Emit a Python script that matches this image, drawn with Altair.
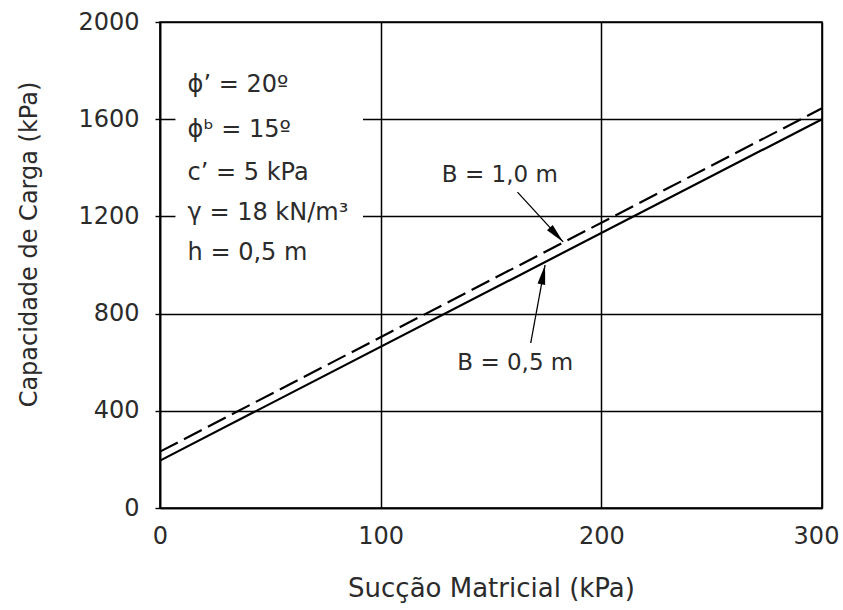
import altair as alt
import pandas as pd

# ---- data ----
suction = [0, 300]
cap_b05 = [195, 1600]      # B = 0,5 m (solid)
cap_b10 = [232, 1645]      # B = 1,0 m (dashed)

x_ticks = [0, 100, 200, 300]
y_ticks = [0, 400, 800, 1200, 1600, 2000]

param_text = ["ϕ’ = 20º", "ϕᵇ = 15º", "c’ = 5 kPa", "γ = 18 kN/m³", "h = 0,5 m"]
param_x = [12.5, 12.5, 12.5, 12.5, 12.5]
param_y = [1740, 1556, 1379, 1216, 1049]

label_text = ["B = 1,0 m", "B = 0,5 m"]
label_x = [154, 161]
label_y = [1370, 597]

arrow_x = [162, 168]
arrow_y = [1300, 679]
arrow_x2 = [182.7, 174.5]
arrow_y2 = [1095, 1000]
arrow_angle = [137, 11]

# text-block white backing (covers the gridlines behind the parameters)
box_x, box_x2, box_y, box_y2 = [7], [92], [1000], [1860]

FONT = "DejaVu Sans"
TXT = "#2b2b2b"

lines_df = pd.DataFrame({
    "s": suction * 2,
    "q": cap_b05 + cap_b10,
    "B": ["0,5"] * 2 + ["1,0"] * 2,
})
params_df = pd.DataFrame({"t": param_text, "x": param_x, "y": param_y})
labels_df = pd.DataFrame({"t": label_text, "x": label_x, "y": label_y})
arrows_df = pd.DataFrame({"x": arrow_x, "y": arrow_y, "x2": arrow_x2,
                          "y2": arrow_y2, "a": arrow_angle})
box_df = pd.DataFrame({"x": box_x, "x2": box_x2, "y": box_y, "y2": box_y2})

xscale = alt.Scale(domain=[0, 300], nice=False)
yscale = alt.Scale(domain=[0, 2000], nice=False)

xaxis = alt.Axis(values=x_ticks, format="d", grid=True, gridColor="black", gridWidth=1.5,
                 gridOpacity=1, domainColor="black", domainWidth=1.6, ticks=False,
                 labelFont=FONT, labelFontSize=24, labelColor=TXT, labelPadding=16,
                 labelFlush=False, labelOverlap=False,
                 labelOffset={"condition": {"test": "datum.value == 300", "value": -6},
                              "value": 0},
                 title="Sucção Matricial (kPa)", titleFont=FONT, titleFontSize=26,
                 titleFontWeight="normal", titleColor=TXT, titleX=331, titleY=88,
                 titleAlign="center", titleBaseline="alphabetic")
yaxis = alt.Axis(values=y_ticks, format="d", grid=True, gridColor="black", gridWidth=1.5,
                 gridOpacity=1, domainColor="black", domainWidth=1.6, ticks=True,
                 tickColor="black", tickSize=5, tickWidth=1.4,
                 labelFont=FONT, labelFontSize=24, labelColor=TXT, labelPadding=16,
                 labelFlush=False, labelOverlap=False,
                 title="Capacidade de Carga (kPa)", titleFont=FONT, titleFontSize=24,
                 titleFontWeight="normal", titleColor=TXT, titleAngle=270,
                 titleX=-131, titleY=222, titleAlign="center", titleBaseline="middle")

box = alt.Chart(box_df).mark_rect(color="white").encode(
    x=alt.X("x:Q", scale=xscale, axis=xaxis),
    x2="x2:Q",
    y=alt.Y("y:Q", scale=yscale, axis=yaxis),
    y2="y2:Q",
)

solid = alt.Chart(lines_df[lines_df["B"] == "0,5"]).mark_line(
    color="black", strokeWidth=2.2).encode(
    x=alt.X("s:Q", scale=xscale), y=alt.Y("q:Q", scale=yscale))

dashed = alt.Chart(lines_df[lines_df["B"] == "1,0"]).mark_line(
    color="black", strokeWidth=2.2, strokeDash=[20, 7]).encode(
    x=alt.X("s:Q", scale=xscale), y=alt.Y("q:Q", scale=yscale))

arrow_lines = alt.Chart(arrows_df).mark_rule(color="black", strokeWidth=1.3).encode(
    x=alt.X("x:Q", scale=xscale), y=alt.Y("y:Q", scale=yscale), x2="x2:Q", y2="y2:Q")

arrow_heads = alt.Chart(arrows_df).mark_point(
    shape="M0,0L0.4,2L-0.4,2Z", filled=True, color="black", opacity=1,
    size=380).encode(
    x=alt.X("x2:Q", scale=xscale), y=alt.Y("y2:Q", scale=yscale),
    angle=alt.Angle("a:Q", scale=None))

params = alt.Chart(params_df).mark_text(
    align="left", baseline="middle", font=FONT, fontSize=24, color=TXT).encode(
    x=alt.X("x:Q", scale=xscale), y=alt.Y("y:Q", scale=yscale), text="t:N")

labels = alt.Chart(labels_df).mark_text(
    align="center", baseline="middle", font=FONT, fontSize=23, color=TXT).encode(
    x=alt.X("x:Q", scale=xscale), y=alt.Y("y:Q", scale=yscale), text="t:N")

chart = alt.layer(box, solid, dashed, arrow_lines, arrow_heads, params, labels).properties(
    width=662, height=486,
    autosize=alt.AutoSizeParams(type="none"),
    padding={"left": 160, "top": 22, "right": 21, "bottom": 102},
    background="white",
).configure_view(stroke="black", strokeWidth=1.6)

chart.save("out.html", embed_options={"renderer": "svg", "actions": False})
